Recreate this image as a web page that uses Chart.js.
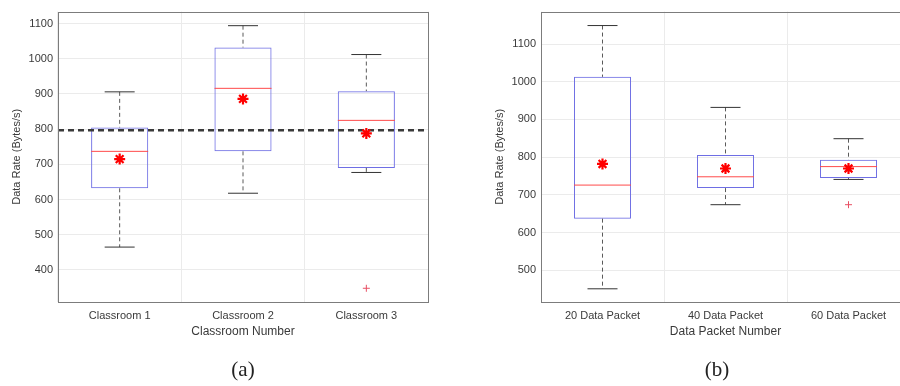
<!DOCTYPE html>
<html>
<head>
<meta charset="utf-8">
<script src="https://cdn.jsdelivr.net/npm/chart.js@4.4.1/dist/chart.umd.min.js"></script>
<style>
  html, body { margin: 0; padding: 0; background: #fff; width: 900px; height: 386px; overflow: hidden; position: relative; }
  .wrap { position: absolute; top: 0; height: 386px; width: 440px; }
  .cap { position: absolute; top: 357px; font-family: "Liberation Serif", "DejaVu Serif", serif; font-size: 21px; color: #222; width: 60px; text-align: center; }
</style>
</head>
<body>
<div class="wrap" style="left:0px"><canvas id="chartA" width="440" height="386"></canvas></div>
<div class="wrap" style="left:482px"><canvas id="chartB" width="440" height="386"></canvas></div>
<div class="cap" style="left:213px">(a)</div>
<div class="cap" style="left:687px">(b)</div>
<script>
// (a) classroom
const categoriesA = ['Classroom 1', 'Classroom 2', 'Classroom 3'];
const minA = [465, 618, 677];
const q1A = [632, 737, 690];
const medianA = [737, 916, 825];
const q3A = [805, 1032, 908];
const maxA = [906, 1094, 1012];
const meanA = [715, 886, 788];
const outliersA = [[], [], [348]];
const refLineA = 797;
const yTicksA = [400, 500, 600, 700, 800, 900, 1000, 1100];

// (b) data packet
const categoriesB = ['20 Data Packet', '40 Data Packet', '60 Data Packet'];
const minB = [451, 674, 741];
const q1B = [637, 718, 745];
const medianB = [726, 748, 775];
const q3B = [1013, 806, 793];
const maxB = [1149, 932, 849];
const meanB = [782, 770, 770];
const outliersB = [[], [], [674]];
const yTicksB = [500, 600, 700, 800, 900, 1000, 1100];

const textColor = '#3a3a3a';
const gridColor = '#ebebeb';

const frame = {
    id: 'frame',
    afterDraw(chart) {
        const a = chart.chartArea;
        const ctx = chart.ctx;
        ctx.save();
        ctx.strokeStyle = '#7c7c7c';
        ctx.lineWidth = 1;
        ctx.strokeRect(Math.round(a.left) + 0.5, Math.round(a.top) + 0.5,
            Math.round(a.right - a.left), Math.round(a.bottom - a.top));
        ctx.restore();
    }
};

function buildChart(id, cats, mins, q1s, meds, q3s, maxs, means, outs, ref, yTicks, yMin, yMax, xTitle, yAxisW, yTitlePad) {
    const idx = cats.map((c, i) => i);
    const whisk = [];
    idx.forEach(i => {
        whisk.push({ x: i, y: maxs[i] }, { x: i, y: q3s[i] }, { x: i, y: null });
        whisk.push({ x: i, y: q1s[i] }, { x: i, y: mins[i] }, { x: i, y: null });
    });
    const caps = [];
    idx.forEach(i => { caps.push({ x: i, y: maxs[i] }, { x: i, y: mins[i] }); });
    const outPts = [];
    idx.forEach(i => outs[i].forEach(v => outPts.push({ x: i, y: v })));

    const datasets = [
        {
            type: 'scatter', data: idx.map(i => ({ x: i, y: means[i] })),
            pointStyle: 'star', radius: 5.5, borderColor: '#ff0000', borderWidth: 2.2, backgroundColor: '#ff0000'
        },
        {
            type: 'scatter', data: outPts,
            pointStyle: 'cross', radius: 3.5, borderColor: 'rgb(232,80,100)', borderWidth: 1
        }
    ];
    if (ref !== null) {
        datasets.push({
            type: 'line', data: [{ x: -0.5, y: ref }, { x: 2.5, y: ref }],
            borderColor: '#3a3a3a', borderWidth: 2.4, borderDash: [6, 4], pointRadius: 0, fill: false
        });
    }
    datasets.push(
        {
            type: 'scatter', data: idx.map(i => ({ x: i, y: meds[i] })),
            pointStyle: 'line', radius: 28.5, borderColor: '#ff4a4a', borderWidth: 1
        },
        {
            type: 'scatter', data: caps,
            pointStyle: 'line', radius: 15, borderColor: '#333', borderWidth: 1
        },
        {
            type: 'line', data: whisk, spanGaps: false,
            borderColor: '#5a5a5a', borderWidth: 1, borderDash: [4, 3], pointRadius: 0, fill: false
        },
        {
            type: 'bar', data: idx.map(i => ({ x: i, y: [q1s[i], q3s[i]] })),
            backgroundColor: 'rgba(0,0,0,0)', borderColor: 'rgb(110,110,228)', borderWidth: 1,
            borderSkipped: false, barPercentage: 0.463, categoryPercentage: 1
        }
    );

    return new Chart(document.getElementById(id).getContext('2d'), {
        type: 'bar',
        data: { datasets: datasets },
        plugins: [frame],
        options: {
            responsive: false,
            animation: false,
            events: [],
            layout: { autoPadding: false, padding: { top: 9, right: 12, left: 0, bottom: 0 } },
            plugins: { legend: { display: false }, tooltip: { enabled: false } },
            scales: {
                x: {
                    type: 'linear', min: -0.5, max: 2.5, offset: false,
                    afterBuildTicks: s => { s.ticks = idx.map(v => ({ value: v })); },
                    afterFit: s => { s.height = 84; },
                    grid: { color: gridColor, drawTicks: false },
                    border: { display: false },
                    ticks: {
                        padding: 7, color: textColor,
                        font: { family: 'Liberation Sans, Arial, sans-serif', size: 11 },
                        callback: v => cats[v]
                    },
                    title: {
                        display: true, text: xTitle, color: textColor,
                        font: { family: 'Liberation Sans, Arial, sans-serif', size: 12 },
                        padding: { top: 0, bottom: 47 }
                    }
                },
                y: {
                    min: yMin, max: yMax,
                    afterBuildTicks: s => { s.ticks = yTicks.map(v => ({ value: v })); },
                    afterFit: s => { s.width = yAxisW; },
                    grid: { color: gridColor, drawTicks: false },
                    border: { display: false },
                    ticks: {
                        padding: 5, color: textColor,
                        font: { family: 'Liberation Sans, Arial, sans-serif', size: 11 },
                        callback: v => String(v)
                    },
                    title: {
                        display: true, text: 'Data Rate (Bytes/s)', color: textColor,
                        font: { family: 'Liberation Sans, Arial, sans-serif', size: 11 },
                        padding: { top: yTitlePad, bottom: 0 }
                    }
                }
            }
        }
    });
}

buildChart('chartA', categoriesA, minA, q1A, medianA, q3A, maxA, meanA, outliersA, refLineA,
    yTicksA, 309, 1134, 'Classroom Number', 58, 10);
buildChart('chartB', categoriesB, minB, q1B, medianB, q3B, maxB, meanB, outliersB, null,
    yTicksB, 416, 1186, 'Data Packet Number', 59, 11);
</script>
</body>
</html>
